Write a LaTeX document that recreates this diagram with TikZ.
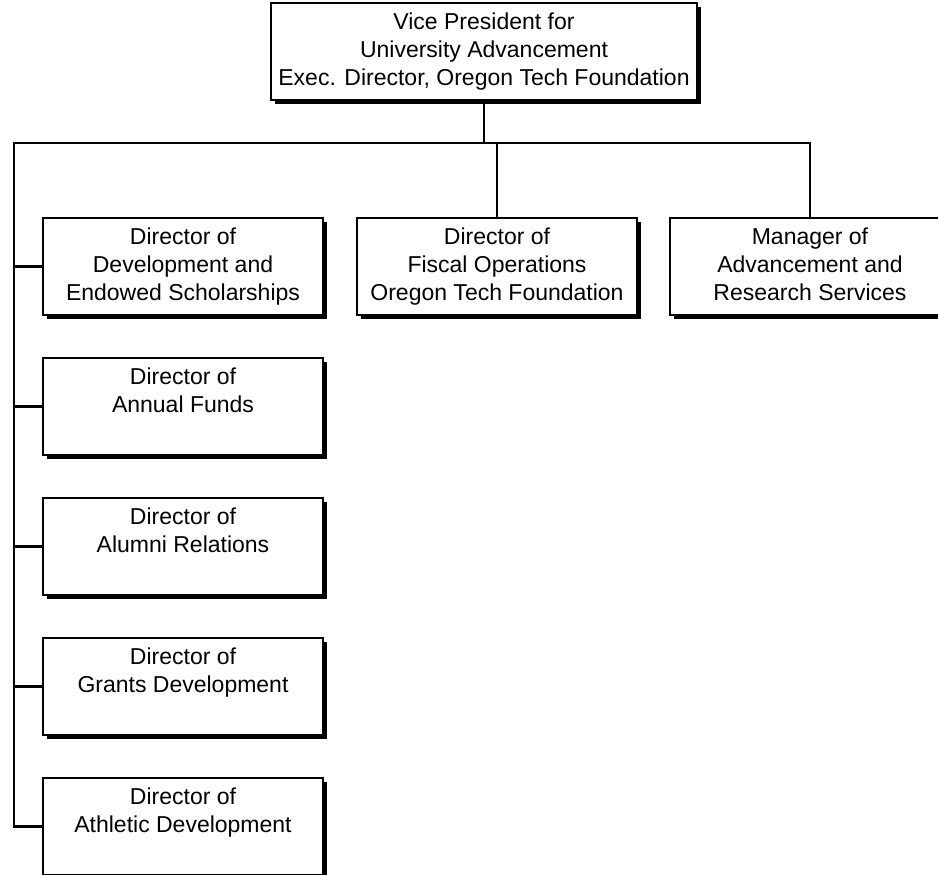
\documentclass[tikz,border=0pt]{standalone}
\usepackage{fontspec}
\setmainfont{Liberation Sans}
\usetikzlibrary{shadows}
\tikzset{
  orgbox/.style={draw=black, fill=white, line width=2.7pt, inner sep=0pt,
    minimum width=280pt, minimum height=97pt, align=center,
    font=\fontsize{23}{28}\selectfont,
    drop shadow={shadow xshift=4pt, shadow yshift=-4pt, opacity=1, fill=black}},
  conn/.style={draw=black, line width=2.4pt}
}
\begin{document}
\begin{tikzpicture}[x=1pt,y=1pt]
\useasboundingbox (0,0) rectangle (938,-875);
\node[orgbox, minimum width=426pt] (vp) at (484,-51.5) {\strut Vice President for\\University Advancement\\Exec. Director, Oregon Tech Foundation\strut};
\node[orgbox] (fis) at (497,-266.5) {\strut Director of\\Fiscal Operations\\Oregon Tech Foundation\strut};
\node[orgbox] (man) at (810,-266.5) {\strut Manager of\\Advancement and\\Research Services\strut};
\node[orgbox] (dev) at (183,-266.5) {\strut Director of\\Development and\\Endowed Scholarships\strut};
\node[orgbox] (ann) at (183,-406.5) {\strut Director of\\Annual Funds\\\strut};
\node[orgbox] (alu) at (183,-546.5) {\strut Director of\\Alumni Relations\\\strut};
\node[orgbox] (gra) at (183,-686.5) {\strut Director of\\Grants Development\\\strut};
\node[orgbox] (ath) at (183,-826.5) {\strut Director of\\Athletic Development\\\strut};
\coordinate (L) at (14,-143);
\draw[conn] (man.north) |- (L) |- (ath.west);
\draw[conn] (vp.south) -- (vp.south |- L);
\draw[conn] (fis.north) -- (fis.north |- L);
\draw[conn] (dev.west) -- (dev.west -| L);
\draw[conn] (ann.west) -- (ann.west -| L);
\draw[conn] (alu.west) -- (alu.west -| L);
\draw[conn] (gra.west) -- (gra.west -| L);
\end{tikzpicture}
\end{document}
